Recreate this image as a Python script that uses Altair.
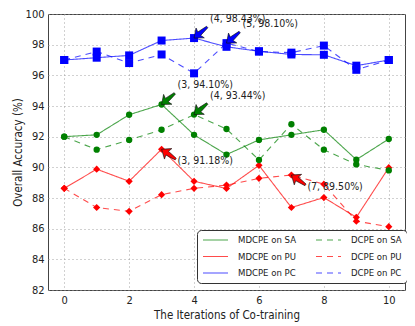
import altair as alt
import pandas as pd

# ---- data ----
iterations = list(range(11))
mdcpe_sa = [92.00, 92.12, 93.43, 94.10, 92.12, 90.83, 91.79, 92.12, 92.45, 90.50, 91.85]
dcpe_sa = [92.00, 91.15, 91.79, 92.45, 93.44, 92.50, 90.48, 92.81, 91.15, 90.19, 89.80]
mdcpe_pu = [88.63, 89.88, 89.09, 91.18, 89.09, 88.62, 90.13, 87.38, 88.03, 86.74, 89.98]
dcpe_pu = [88.63, 87.38, 87.13, 88.22, 88.63, 88.84, 89.28, 89.50, 88.90, 86.49, 86.13]
mdcpe_pc = [97.00, 97.15, 97.30, 98.27, 98.43, 97.86, 97.57, 97.36, 97.34, 96.63, 97.00]
dcpe_pc = [97.00, 97.55, 96.80, 97.36, 96.13, 98.10, 97.55, 97.48, 97.94, 96.36, 97.00]

# legend order (filled column by column): MDCPE series first, then DCPE
series_names = ["MDCPE on SA", "MDCPE on PU", "MDCPE on PC", "DCPE on SA", "DCPE on PU", "DCPE on PC"]
series_values = [mdcpe_sa, mdcpe_pu, mdcpe_pc, dcpe_sa, dcpe_pu, dcpe_pc]
datasets = ["SA", "PU", "PC"]
x_ticks = [0, 2, 4, 6, 8, 10]
y_ticks = [82, 84, 86, 88, 90, 92, 94, 96, 98, 100]

# ---- styles ----
dataset_colors = ["#008000", "#ff0000", "#0000ff"]
dataset_shapes = ["circle", "diamond", "square"]
dataset_sizes = [40, 64, 45]
series_colors = ["#008000", "#ff0000", "#0000ff", "#008000", "#ff0000", "#0000ff"]
series_dash = [[1, 0], [1, 0], [1, 0], [6, 5], [6, 5], [6, 5]]
FONT = "DejaVu Sans Condensed, DejaVu Sans"
ARROW = "M0,0 L1,-0.8 L0.85,-0.28 L2.15,-0.12 L2.15,0.12 L0.85,0.28 L1,0.8 Z"

rows = []
for name, vals in zip(series_names, series_values):
    for it, v in zip(iterations, vals):
        rows.append({"iter": it, "acc": v, "series": name, "dataset": name.split()[-1]})
df = pd.DataFrame(rows)

# annotations: maximum of each series
ann = []
for name, vals in zip(series_names, series_values):
    i = max(range(len(vals)), key=lambda k: vals[k])
    ann.append({"iter": iterations[i], "acc": vals[i], "dataset": name.split()[-1],
                "label": f"({iterations[i]}, {vals[i]:.2f}%)",
                "down": name.endswith("PU")})
adf = pd.DataFrame(ann)

xs = alt.Scale(domain=[-0.5, 10.5], nice=False, zero=False)
ys = alt.Scale(domain=[82, 100], nice=False, zero=False)
cs = alt.Scale(domain=series_names, range=series_colors)
ds = alt.Scale(domain=datasets, range=dataset_colors)

X = alt.X("iter:Q", scale=xs, title="The Iterations of Co-training",
          axis=alt.Axis(values=x_ticks, tickCount=20, format="d", labelOverlap=False))
Y = alt.Y("acc:Q", scale=ys, title="Overall Accuracy (%)",
          axis=alt.Axis(values=y_ticks, tickCount=20, format="d", labelOverlap=False))

leg = alt.Legend(title=None, orient="none", legendX=149, legendY=216, columns=2,
                 symbolType="stroke", symbolSize=625, symbolStrokeWidth=1.2,
                 clipHeight=10, rowPadding=6.5, columnPadding=18, labelOffset=9,
                 labelFont=FONT, labelFontSize=9.5, labelColor="#222",
                 padding=5, strokeColor="#333", fillColor="white", cornerRadius=4)

lines = alt.Chart(df).mark_line(strokeWidth=1.1, opacity=0.7).encode(
    x=X, y=Y,
    color=alt.Color("series:N", scale=cs, legend=leg, sort=series_names),
    strokeDash=alt.StrokeDash("series:N", scale=alt.Scale(domain=series_names, range=series_dash),
                              legend=leg, sort=series_names),
)

points = alt.Chart(df).mark_point(filled=True, opacity=1).encode(
    x="iter:Q", y="acc:Q",
    fill=alt.Fill("dataset:N", scale=ds, legend=None),
    shape=alt.Shape("dataset:N", scale=alt.Scale(domain=datasets, range=dataset_shapes), legend=None),
    size=alt.Size("dataset:N", scale=alt.Scale(domain=datasets, range=dataset_sizes), legend=None),
)

arrows_up = alt.Chart(adf).transform_filter("!datum.down").mark_point(
    shape=ARROW, size=256, filled=True, opacity=1, stroke="#111", strokeWidth=0.6, angle=320
).encode(x="iter:Q", y="acc:Q", fill=alt.Fill("dataset:N", scale=ds, legend=None))

arrows_down = alt.Chart(adf).transform_filter("datum.down").mark_point(
    shape=ARROW, size=256, filled=True, opacity=1, stroke="#111", strokeWidth=0.6, angle=35
).encode(x="iter:Q", y="acc:Q", fill=alt.Fill("dataset:N", scale=ds, legend=None))

text_up = alt.Chart(adf).transform_filter("!datum.down").mark_text(
    align="left", baseline="middle", dx=16, dy=-19, font=FONT, fontSize=10.5, color="#222"
).encode(x="iter:Q", y="acc:Q", text="label:N")

text_down = alt.Chart(adf).transform_filter("datum.down").mark_text(
    align="left", baseline="middle", dx=16, dy=12, font=FONT, fontSize=10.5, color="#222"
).encode(x="iter:Q", y="acc:Q", text="label:N")

chart = alt.layer(lines, points, arrows_up, arrows_down, text_up, text_down).properties(
    width=357, height=276,
    autosize=alt.AutoSizeParams(type="none"),
    padding={"left": 40, "top": 6, "right": 2, "bottom": 33},
).configure_view(
    stroke="#444", strokeWidth=1
).configure_axis(
    domain=False, ticks=False, labelPadding=4,
    grid=True, gridColor="#999", gridDash=[1, 3], gridWidth=0.9,
    labelFont=FONT, labelFontSize=11, labelColor="#222",
    titleFont=FONT, titleFontSize=11.5, titleFontWeight="normal", titleColor="#222",
).configure_axisY(titlePadding=2).configure_axisX(titlePadding=4)

chart.save("out.html", embed_options={"renderer": "svg", "actions": False})
